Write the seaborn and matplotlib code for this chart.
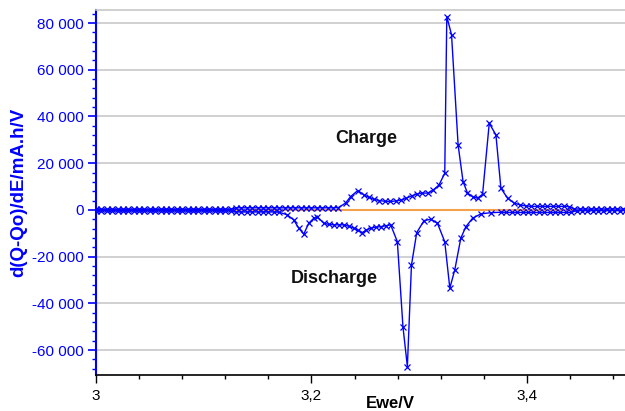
import matplotlib
matplotlib.use("Agg")
import matplotlib.pyplot as plt
import matplotlib.ticker as mticker
import seaborn as sns
import pandas as pd

# charge branch: Ewe [V] and d(Q-Qo)/dE [mA.h/V]
charge_v = [3.000, 3.005, 3.010, 3.015, 3.020, 3.025, 3.030, 3.035, 3.040, 3.045,
            3.050, 3.055, 3.060, 3.065, 3.070, 3.075, 3.080, 3.085, 3.090, 3.095,
            3.100, 3.105, 3.110, 3.115, 3.120, 3.125,
            3.130, 3.135, 3.140, 3.145, 3.150, 3.155, 3.160, 3.165, 3.170, 3.175,
            3.180, 3.185, 3.190, 3.195, 3.200, 3.205, 3.210, 3.215, 3.220, 3.225,
            3.2316, 3.2363, 3.2430, 3.2487, 3.2533, 3.2580, 3.2630, 3.2680, 3.2730,
            3.2780, 3.2830, 3.2880, 3.2930, 3.2980, 3.3030, 3.3080, 3.3130, 3.3184,
            3.3237, 3.3256, 3.3300, 3.3361, 3.3407, 3.3448, 3.3495, 3.3541, 3.3588,
            3.3650, 3.3712, 3.3758, 3.3820, 3.3882, 3.3940, 3.3990,
            3.404, 3.409, 3.414, 3.419, 3.424, 3.429, 3.434, 3.439,
            3.444, 3.449, 3.454, 3.459, 3.464, 3.469, 3.474, 3.479, 3.484, 3.489]
charge_q = [300, 300, 300, 300, 300, 300, 300, 300, 300, 300,
            300, 300, 300, 300, 300, 300, 300, 300, 300, 300,
            300, 300, 300, 300, 300, 300,
            900, 900, 900, 900, 900, 900, 900, 900, 900, 900,
            900, 900, 900, 900, 900, 900, 900, 900, 900, 1000,
            2900, 5700, 8300, 6400, 5400, 4500, 4000, 3700, 3600,
            3800, 4200, 5000, 6000, 6800, 7200, 7200, 8500, 10700,
            15700, 82800, 75000, 27800, 12100, 7200, 5700, 5000, 6700,
            37100, 32100, 9300, 5000, 2900, 2100, 1700,
            1500, 1500, 1500, 1500, 1500, 1500, 1500, 1400,
            400, 400, 400, 400, 400, 400, 400, 400, 400, 400]

# discharge branch
discharge_v = [3.000, 3.005, 3.010, 3.015, 3.020, 3.025, 3.030, 3.035, 3.040, 3.045,
               3.050, 3.055, 3.060, 3.065, 3.070, 3.075, 3.080, 3.085, 3.090, 3.095,
               3.100, 3.105, 3.110, 3.115, 3.120, 3.125,
               3.130, 3.135, 3.140, 3.145, 3.150, 3.155, 3.160, 3.165, 3.170,
               3.1774, 3.1835, 3.1882, 3.1928, 3.1975, 3.2021, 3.2053, 3.2114, 3.2160,
               3.2207, 3.2255, 3.2300, 3.2345, 3.2393, 3.2430, 3.2472, 3.2510, 3.2549,
               3.2595, 3.2642, 3.2690, 3.2735, 3.2797, 3.2849, 3.2890, 3.2928, 3.2977,
               3.3045, 3.3107, 3.3169, 3.3237, 3.3284, 3.3330, 3.3386, 3.3433, 3.3495,
               3.3572, 3.3665, 3.3758,
               3.381, 3.386, 3.391, 3.396, 3.401, 3.406, 3.411, 3.416, 3.421, 3.426,
               3.431, 3.436, 3.441,
               3.446, 3.451, 3.456, 3.461, 3.466, 3.471, 3.476, 3.481, 3.486, 3.491]
discharge_q = [-300, -300, -300, -300, -300, -300, -300, -300, -300, -300,
               -300, -300, -300, -300, -300, -300, -300, -300, -300, -300,
               -300, -300, -300, -300, -300, -300,
               -900, -900, -900, -900, -900, -900, -900, -900, -1000,
               -2100, -4300, -7800, -10400, -5700, -3600, -2900, -5700, -6200,
               -6400, -6400, -6400, -7000, -7800, -8800, -9700, -8600, -7800,
               -7400, -7200, -6800, -6400, -13600, -50000, -67100, -23600, -9700,
               -4600, -4000, -5700, -13600, -33500, -25700, -12100, -7200, -3600,
               -1700, -1200, -1000,
               -1100, -1100, -1100, -1100, -1100, -1100, -1100, -1100, -1100, -1100,
               -1100, -1100, -1100,
               -300, -300, -300, -300, -300, -300, -300, -300, -300, -300]

# orange reference line at zero
ref_v = [3.13, 3.445]
ref_q = [0, 0]

BLUE = "#0000ff"

sns.set_style("white")
plt.rcParams["font.family"] = ["Liberation Sans", "DejaVu Sans"]

fig = plt.figure(figsize=(6.25, 4.11), dpi=100)
ax = fig.add_axes([96 / 625, 36 / 411, 1 - 96 / 625, 365 / 411])

ref = pd.DataFrame({"v": ref_v, "q": ref_q})
sns.lineplot(data=ref, x="v", y="q", color="#f5a04a", linewidth=1.5,
             estimator=None, sort=False, ax=ax, zorder=2)

for vs, qs in [(charge_v, charge_q), (discharge_v, discharge_q)]:
    df = pd.DataFrame({"v": vs, "q": qs})
    sns.lineplot(data=df, x="v", y="q", color=BLUE, linewidth=1.0,
                 marker="x", markersize=5, markeredgecolor=BLUE,
                 markeredgewidth=0.9, estimator=None, sort=False, ax=ax, zorder=3)

ax.set_xlim(3.0, 3.491)
ax.set_ylim(-70700, 85600)

ax.xaxis.set_major_locator(mticker.MultipleLocator(0.2))
ax.xaxis.set_minor_locator(mticker.MultipleLocator(0.04))
ax.yaxis.set_major_locator(mticker.MultipleLocator(20000))
ax.yaxis.set_minor_locator(mticker.MultipleLocator(4000))

def fmt_x(v, pos):
    s = f"{v:.1f}"
    if s.endswith(".0"):
        s = s[:-2]
    return s.replace(".", ",")

ax.xaxis.set_major_formatter(mticker.FuncFormatter(fmt_x))
ax.yaxis.set_major_formatter(mticker.FuncFormatter(lambda v, p: f"{v:,.0f}".replace(",", " ")))

ax.grid(axis="y", which="major", color="#c8c8c8", linewidth=1.2, zorder=0)
ax.set_axisbelow(True)

ax.tick_params(axis="y", which="major", direction="out", length=6, width=1.2,
               color=BLUE, labelcolor=BLUE, labelsize=11, pad=3, left=True)
ax.tick_params(axis="y", which="minor", direction="out", length=3, width=1.0,
               color=BLUE, left=True)
ax.tick_params(axis="x", which="major", direction="out", length=6, width=1.0,
               color="black", labelcolor="black", labelsize=11, pad=4, bottom=True)
ax.tick_params(axis="x", which="minor", direction="out", length=3, width=1.0,
               color="black", bottom=True)

ax.spines["left"].set_color(BLUE)
ax.spines["left"].set_linewidth(1.5)
ax.spines["bottom"].set_color("black")
ax.spines["bottom"].set_linewidth(1.2)
ax.spines["top"].set_color("#c8c8c8")
ax.spines["top"].set_linewidth(1.2)
ax.spines["right"].set_visible(False)

ax.set_ylabel("d(Q-Qo)/dE/mA.h/V", color=BLUE, fontsize=13.5, fontweight="bold")
ax.yaxis.set_label_coords(-0.13, 0.5)
ax.set_xlabel("Ewe/V", color="black", fontsize=12, fontweight="bold")
ax.xaxis.set_label_coords(0.556, -0.058)

ax.text(3.251, 30400, "Charge", fontsize=13, fontweight="bold", color="#111111",
        ha="center", va="center")
ax.text(3.2214, -29500, "Discharge", fontsize=13, fontweight="bold", color="#111111",
        ha="center", va="center")

fig.savefig("out.png", dpi=100)
